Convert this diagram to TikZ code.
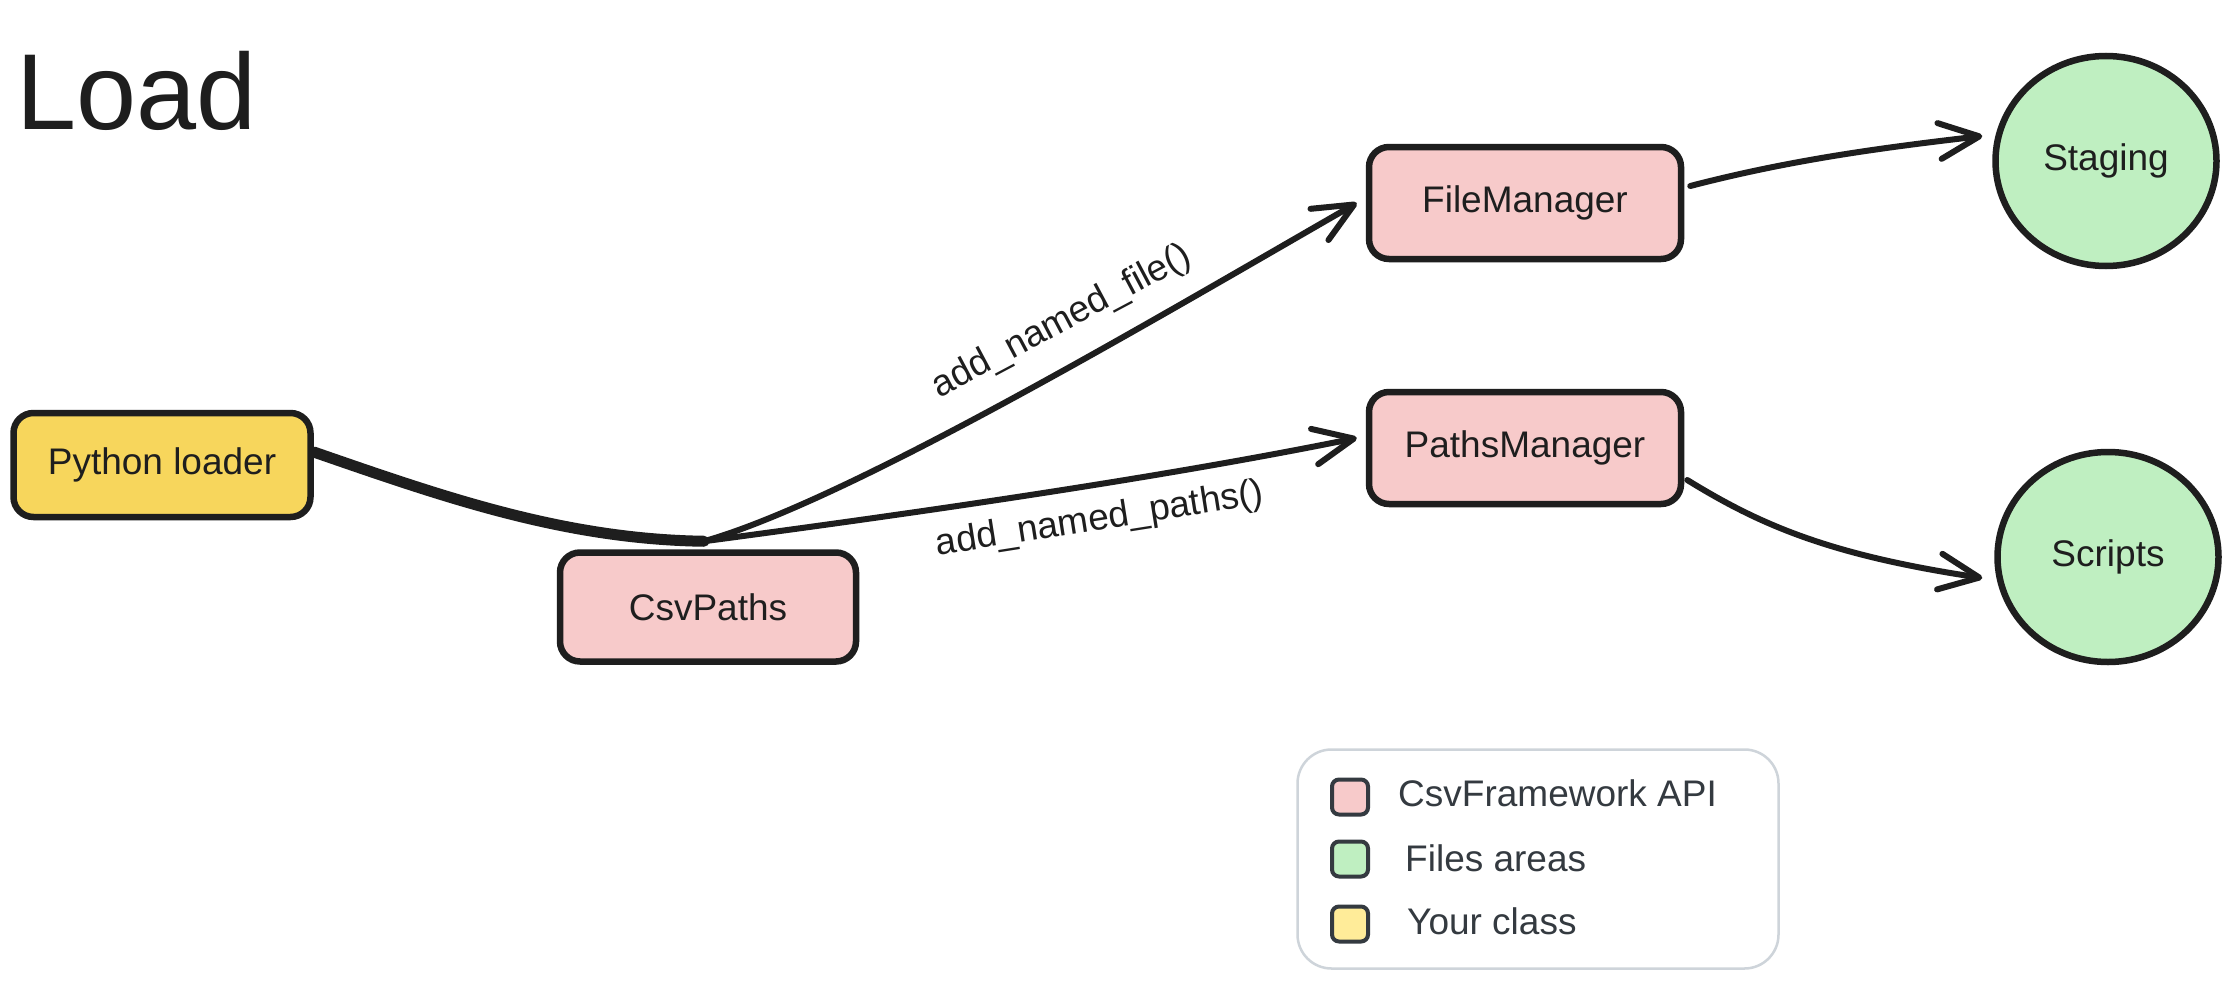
\documentclass[tikz,border=0pt]{standalone}
\usepackage{fontspec}
\setmainfont{Liberation Sans}
\usetikzlibrary{arrows.meta,shapes.geometric,calc}
\definecolor{ink}{HTML}{1E1E1E}
\definecolor{legink}{HTML}{343A40}
\definecolor{pinkfill}{HTML}{F7CACA}
\definecolor{greenfill}{HTML}{BFEFC1}
\definecolor{yellowfill}{HTML}{F7D65C}
\definecolor{legyellow}{HTML}{FFEC99}
\definecolor{leggray}{HTML}{CED4DA}
\newcommand\lblfont{\fontsize{37}{42}\selectfont}
\newcommand\titlefont{\fontsize{108}{120}\selectfont}
\begin{document}
\begin{tikzpicture}[x=1pt,y=-1pt,
  box/.style={draw=ink, line width=6.5pt, rounded corners=20pt, font=\lblfont, text=ink, inner sep=0pt},
  area/.style={ellipse, draw=ink, line width=6.5pt, fill=greenfill, font=\lblfont, text=ink, inner sep=0pt},
  conn/.style={draw=ink, line width=6pt, line cap=round, -{Straight Barb[length=40pt,width=36pt,round]}},
  feed/.style={draw=ink, line width=11pt, line cap=round},
  elabel/.style={font=\lblfont, text=ink, inner sep=0pt},
  swatch/.style={draw=legink, line width=4pt, rounded corners=7pt, minimum width=36pt, minimum height=35pt, inner sep=0pt},
  legtext/.style={font=\lblfont, text=legink, anchor=west, inner sep=0pt}
]
\useasboundingbox[fill=white] (0,0) rectangle (2240,990);

\node[anchor=base west, font=\titlefont, text=ink, inner sep=0pt] (title) at (16,129) {Load};

\node[box, fill=yellowfill, minimum width=297pt, minimum height=104pt] (pl) at (162,465) {Python loader};
\node[box, fill=pinkfill, minimum width=296pt, minimum height=109pt] (cp) at (708,607) {CsvPaths};
\node[box, fill=pinkfill, minimum width=312pt, minimum height=112pt] (fm) at (1525,203) {FileManager};
\node[box, fill=pinkfill, minimum width=312pt, minimum height=112pt] (pm) at (1525,448) {PathsManager};
\node[area, minimum width=221pt, minimum height=210pt] (stg) at (2106,161) {Staging};
\node[area, minimum width=221pt, minimum height=210pt] (scr) at (2108,557) {Scripts};

\draw[feed] ([yshift=13pt]pl.east) .. controls +(130,45) and +(-140,-2) .. ([xshift=-4pt,yshift=8pt]cp.north);
\draw[conn] ([xshift=-4pt,yshift=8pt]cp.north) .. controls +(145,-41) and +(-207,119) .. ([xshift=-9pt]fm.west);
\draw[conn] ([xshift=-4pt,yshift=8pt]cp.north) .. controls +(195,-26) and +(-207,42) .. ([xshift=-9pt,yshift=10pt]pm.west);
\draw[conn] ([xshift=6pt,yshift=17pt]fm.east) .. controls +(100,-26) and +(-103,12) .. ([xshift=-10pt,yshift=25pt]stg.west);
\draw[conn] ([xshift=3pt,yshift=-32pt]pm.east) .. controls +(73,45) and +(-153,-23) .. ([xshift=-12pt,yshift=-21pt]scr.west);

\node[elabel, rotate=28] (lfile) at (1062,322) {add\_named\_file()};
\node[elabel, rotate=9] (lpaths) at (1100,520) {add\_named\_paths()};

\node[draw=leggray, line width=2.5pt, rounded corners=34pt, minimum width=481pt, minimum height=219pt, inner sep=0pt] (lg) at (1538,859) {};
\node[swatch, fill=pinkfill] (sq1) at (1350,797) {};
\node[swatch, fill=greenfill] (sq2) at (1350,859) {};
\node[swatch, fill=legyellow] (sq3) at (1350,924) {};
\node[legtext] (lt1) at (1398,793) {CsvFramework API};
\node[legtext] (lt2) at (1405,858) {Files areas};
\node[legtext] (lt3) at (1407,921) {Your class};
\end{tikzpicture}
\end{document}
